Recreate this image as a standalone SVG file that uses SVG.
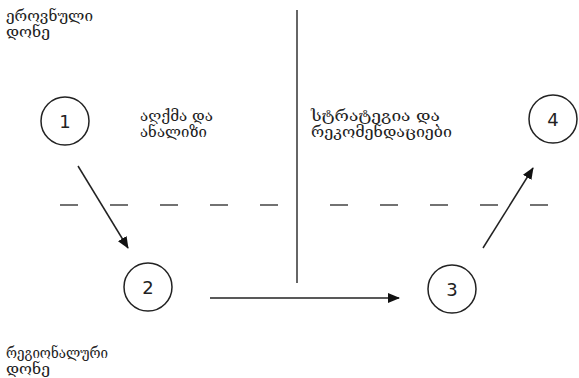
<svg xmlns="http://www.w3.org/2000/svg" width="579" height="378" viewBox="0 0 579 378">
<style>
.node circle{fill:#fff;stroke:#222;stroke-width:1.5}
.num{font-family:"DejaVu Sans",Verdana,sans-serif;font-size:18px;fill:#222;text-anchor:middle}
.lbl{font-family:"DejaVu Serif","DejaVu Sans",serif;font-size:14px;fill:#222}
.conn{stroke:#222;stroke-width:1.5;fill:none}
.dash{stroke:#444;stroke-width:1.6;stroke-dasharray:18 32;fill:none}
</style>
<defs>
<marker id="ah" viewBox="0 0 12 10" refX="11" refY="5" markerWidth="12" markerHeight="10" markerUnits="userSpaceOnUse" orient="auto">
<path d="M0,0 L12,5 L0,10 z" fill="#111"/>
</marker>
</defs>
<rect width="579" height="378" fill="#fff"/>
<g id="guides">
<line class="dash" x1="60" y1="205" x2="290" y2="205"/>
<line class="dash" x1="330" y1="205" x2="560" y2="205"/>
<line x1="297" y1="10" x2="297" y2="283" stroke="#333" stroke-width="1.5"/>
</g>
<g id="labels">
<text class="lbl" x="6" y="21" textLength="87" lengthAdjust="spacingAndGlyphs">ეროვნული</text>
<text class="lbl" x="6" y="37" textLength="44" lengthAdjust="spacingAndGlyphs">დონე</text>
<text class="lbl" x="140" y="121" textLength="73" lengthAdjust="spacingAndGlyphs">აღქმა და</text>
<text class="lbl" x="140" y="137" textLength="67" lengthAdjust="spacingAndGlyphs">ანალიზი</text>
<text class="lbl" x="311" y="121" textLength="129" lengthAdjust="spacingAndGlyphs">სტრატეგია და</text>
<text class="lbl" x="311" y="137" textLength="141" lengthAdjust="spacingAndGlyphs">რეკომენდაციები</text>
<text class="lbl" x="6" y="358" textLength="102" lengthAdjust="spacingAndGlyphs">რეგიონალური</text>
<text class="lbl" x="6" y="374" textLength="44" lengthAdjust="spacingAndGlyphs">დონე</text>
</g>
<g id="connectors">
<line class="conn" x1="78" y1="166" x2="128" y2="248" marker-end="url(#ah)"/>
<line class="conn" x1="210" y1="298" x2="399" y2="298" marker-end="url(#ah)"/>
<line class="conn" x1="483" y1="248" x2="533" y2="168" marker-end="url(#ah)"/>
</g>
<g id="node1" class="node"><circle cx="65" cy="121" r="24"/><text class="num" x="65" y="128">1</text></g>
<g id="node2" class="node"><circle cx="148" cy="287" r="24"/><text class="num" x="148" y="294">2</text></g>
<g id="node3" class="node"><circle cx="452" cy="289" r="24"/><text class="num" x="452" y="296">3</text></g>
<g id="node4" class="node"><circle cx="553" cy="119" r="24"/><text class="num" x="553" y="126">4</text></g>
</svg>
